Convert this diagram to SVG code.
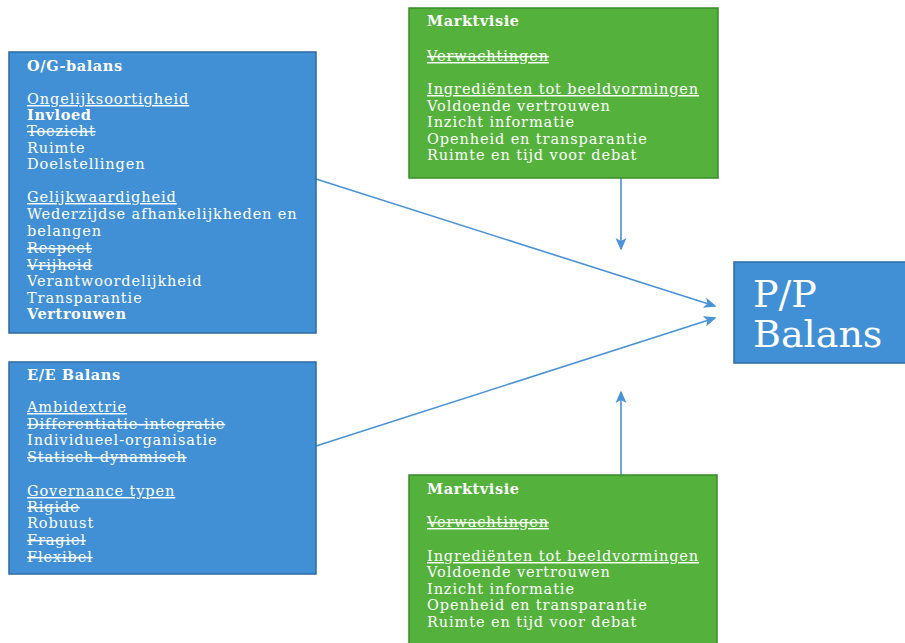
<svg xmlns="http://www.w3.org/2000/svg" width="905" height="643" viewBox="0 0 905 643">
<defs>
<style>
.blue{fill:#4190d6;stroke:#2e6aa3;stroke-width:1.5}
.green{fill:#54b23c;stroke:#3a8a2a;stroke-width:1.5}
text{font-family:"DejaVu Serif","Liberation Serif",serif;fill:#ffffff;font-size:14.5px;letter-spacing:0.9px}
.b{font-weight:bold;letter-spacing:0.6px}
.u{text-decoration:underline}
.s{text-decoration:line-through}
.us{text-decoration:underline line-through}
.big{font-size:38px;letter-spacing:0}
.conn{stroke:#4a92d8;stroke-width:1.6;fill:none}
</style>
<marker id="arr" viewBox="0 0 10 10" refX="9" refY="5" markerWidth="12" markerHeight="12" markerUnits="userSpaceOnUse" orient="auto">
<path d="M1,1.5 L9,5 L1,8.5 L3,5 Z" fill="#4a92d8" stroke="#4a92d8" stroke-width="1"/>
</marker>
</defs>
<g id="connectors">
<line class="conn" x1="316" y1="179" x2="715" y2="306" marker-end="url(#arr)"/>
<line class="conn" x1="316" y1="446" x2="715" y2="318" marker-end="url(#arr)"/>
<line class="conn" x1="621" y1="178" x2="621" y2="249" marker-end="url(#arr)"/>
<line class="conn" x1="621" y1="475" x2="621" y2="392" marker-end="url(#arr)"/>
</g>
<g id="og-balans">
<rect class="blue" x="9" y="52" width="307" height="281"/>
<text x="27" y="71" class="b">O/G-balans</text>
<text x="27" y="104" class="u">Ongelijksoortigheid</text>
<text x="27" y="120" class="b">Invloed</text>
<text x="27" y="136" class="s">Toezicht</text>
<text x="27" y="153">Ruimte</text>
<text x="27" y="169">Doelstellingen</text>
<text x="27" y="202" class="u">Gelijkwaardigheid</text>
<text x="27" y="219">Wederzijdse afhankelijkheden en</text>
<text x="27" y="236">belangen</text>
<text x="27" y="253" class="s">Respect</text>
<text x="27" y="270" class="s">Vrijheid</text>
<text x="27" y="286">Verantwoordelijkheid</text>
<text x="27" y="303">Transparantie</text>
<text x="27" y="319" class="b">Vertrouwen</text>
</g>
<g id="ee-balans">
<rect class="blue" x="9" y="362" width="307" height="212"/>
<text x="27" y="380" class="b">E/E Balans</text>
<text x="27" y="412" class="u">Ambidextrie</text>
<text x="27" y="429" class="s">Differentiatie-integratie</text>
<text x="27" y="445">Individueel-organisatie</text>
<text x="27" y="462" class="s">Statisch-dynamisch</text>
<text x="27" y="496" class="u">Governance typen</text>
<text x="27" y="512" class="s">Rigide</text>
<text x="27" y="528">Robuust</text>
<text x="27" y="545" class="s">Fragiel</text>
<text x="27" y="562" class="s">Flexibel</text>
</g>
<g id="marktvisie-top">
<rect class="green" x="409" y="8" width="309" height="170"/>
<text x="427" y="26" class="b">Marktvisie</text>
<text x="427" y="61" class="us">Verwachtingen</text>
<text x="427" y="94" class="u">Ingrediënten tot beeldvormingen</text>
<text x="427" y="111">Voldoende vertrouwen</text>
<text x="427" y="127">Inzicht informatie</text>
<text x="427" y="144">Openheid en transparantie</text>
<text x="427" y="160">Ruimte en tijd voor debat</text>
</g>
<g id="marktvisie-bottom">
<rect class="green" x="409" y="475" width="308" height="170"/>
<text x="427" y="494" class="b">Marktvisie</text>
<text x="427" y="527" class="us">Verwachtingen</text>
<text x="427" y="561" class="u">Ingrediënten tot beeldvormingen</text>
<text x="427" y="577">Voldoende vertrouwen</text>
<text x="427" y="594">Inzicht informatie</text>
<text x="427" y="610">Openheid en transparantie</text>
<text x="427" y="627">Ruimte en tijd voor debat</text>
</g>
<g id="pp-balans">
<rect class="blue" x="734" y="262" width="173" height="101"/>
<text x="753" y="307" class="big">P/P</text>
<text x="753" y="347" class="big">Balans</text>
</g>
</svg>
